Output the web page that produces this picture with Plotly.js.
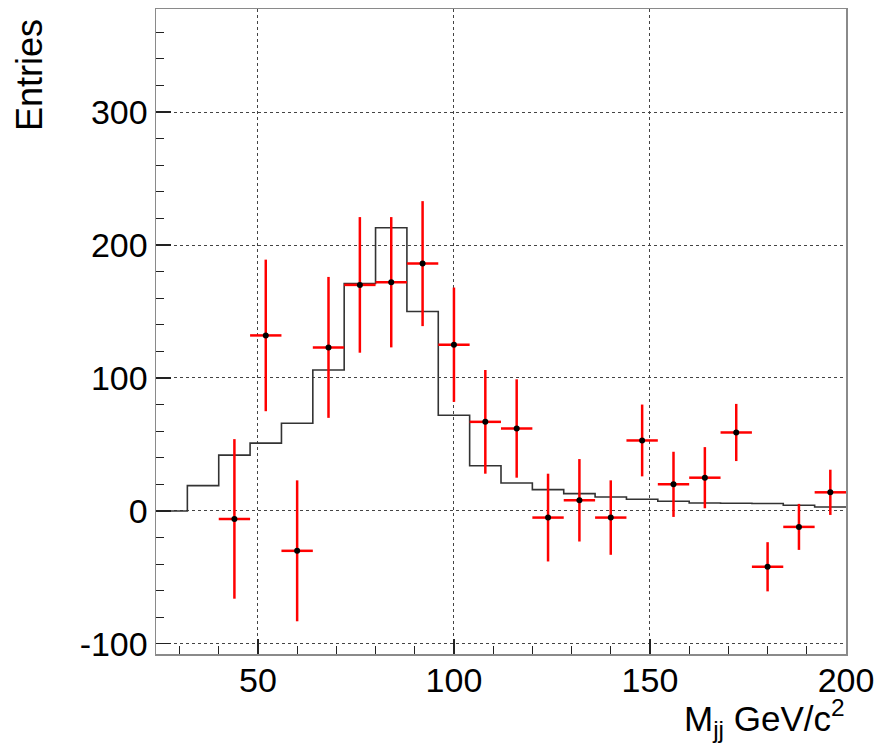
<!DOCTYPE html>
<html>
<head>
<meta charset="utf-8">
<script src="https://cdn.plot.ly/plotly-3.0.1.min.js"></script>
<style>
  html, body { margin: 0; padding: 0; background: #fff; }
  #chart { width: 880px; height: 747px; }
</style>
</head>
<body>
<div id="chart"></div>
<script>
// Reference histogram (black step line): bin lower edges and contents
var mcBinLow = [24, 32, 40, 48, 56, 64, 72, 80, 88, 96, 104, 112, 120, 128, 136, 144, 152, 160, 168, 176, 184, 192];
var mcCounts = [0, 19, 42, 51, 66, 106, 171, 213, 150, 72, 34, 21, 16, 13, 10.5, 8.8, 7.3, 6, 5.8, 5.6, 4.3, 3];
var binWidth = 8;

// Data points (red error bars)
var dataX = [44, 52, 60, 68, 76, 84, 92, 100, 108, 116, 124, 132, 140, 148, 156, 164, 172, 180, 188, 196];
var dataY = [-6, 132, -30, 123, 170, 172, 186, 125, 67, 62, -5, 8, -5, 53, 20, 25, 59, -42, -12, 14];
var dataErr = [60, 57, 53, 53, 51, 49, 47, 43, 39, 37, 33, 31, 28, 27, 24.5, 23, 21.5, 18.5, 17.3, 17];

// Tick labels
var xTicks = [50, 100, 150, 200];
var yTicks = [-100, 0, 100, 200, 300];

var stepX = mcBinLow.concat([mcBinLow[mcBinLow.length - 1] + binWidth]);
var stepY = mcCounts.concat([mcCounts[mcCounts.length - 1]]);
var halfW = dataX.map(function () { return binWidth / 2; });

var FONT = 'Liberation Sans, Arial, Helvetica, sans-serif';

var traces = [
  {
    type: 'scatter', mode: 'lines',
    x: stepX, y: stepY,
    line: { shape: 'hv', color: '#333333', width: 1.6 },
    hoverinfo: 'skip', showlegend: false
  },
  {
    type: 'scatter', mode: 'markers',
    x: dataX, y: dataY,
    marker: { color: '#000000', size: 6, symbol: 'circle' },
    error_y: { type: 'data', array: dataErr, visible: true, color: '#ff0000', thickness: 2.5, width: 0 },
    error_x: { type: 'data', array: halfW, visible: true, color: '#ff0000', thickness: 2.5, width: 0 },
    showlegend: false
  }
];

var layout = {
  width: 880, height: 747,
  margin: { l: 156, r: 34, t: 9, b: 93 },
  paper_bgcolor: '#ffffff', plot_bgcolor: '#ffffff',
  showlegend: false,
  font: { family: FONT, color: '#000000' },
  xaxis: {
    range: [24, 200],
    tickmode: 'array', tickvals: xTicks, ticktext: xTicks.map(String),
    ticks: 'inside', ticklen: 15, tickwidth: 1.2, tickcolor: '#222222',
    ticklabelstandoff: -4,
    minor: { dtick: 10, tick0: 0, ticks: 'inside', ticklen: 8, tickcolor: '#222222', tickwidth: 1, showgrid: false },
    tickfont: { family: FONT, size: 34, color: '#000000' },
    showgrid: true, gridcolor: '#444444', griddash: 'dot', gridwidth: 1,
    zeroline: false,
    showline: true, linecolor: '#8a8a8a', linewidth: 1.5, mirror: true
  },
  yaxis: {
    range: [-107.6, 377.5],
    tickmode: 'array', tickvals: yTicks, ticktext: yTicks.map(String),
    ticks: 'inside', ticklen: 15, tickwidth: 1.2, tickcolor: '#222222',
    minor: { dtick: 20, tick0: 0, ticks: 'inside', ticklen: 8, tickcolor: '#222222', tickwidth: 1, showgrid: false },
    tickfont: { family: FONT, size: 34, color: '#000000' },
    showgrid: true, gridcolor: '#444444', griddash: 'dot', gridwidth: 1,
    zeroline: false,
    showline: true, linecolor: '#8a8a8a', linewidth: 1.5, mirror: true
  },
  annotations: [
    {
      text: 'Entries', textangle: -90,
      xref: 'paper', yref: 'paper', x: 0, y: 1,
      xanchor: 'center', yanchor: 'top', xshift: -127, yshift: -8,
      showarrow: false,
      font: { family: FONT, size: 36, color: '#000000' }
    },
    {
      text: 'M<sub>jj</sub> GeV/c<sup>2</sup>',
      xref: 'paper', yref: 'paper', x: 1, y: 0,
      xanchor: 'right', yanchor: 'top', xshift: 1, yshift: -38,
      showarrow: false,
      font: { family: FONT, size: 35, color: '#000000' }
    }
  ]
};

Plotly.newPlot('chart', traces, layout, { displayModeBar: false, staticPlot: true });
</script>
</body>
</html>
